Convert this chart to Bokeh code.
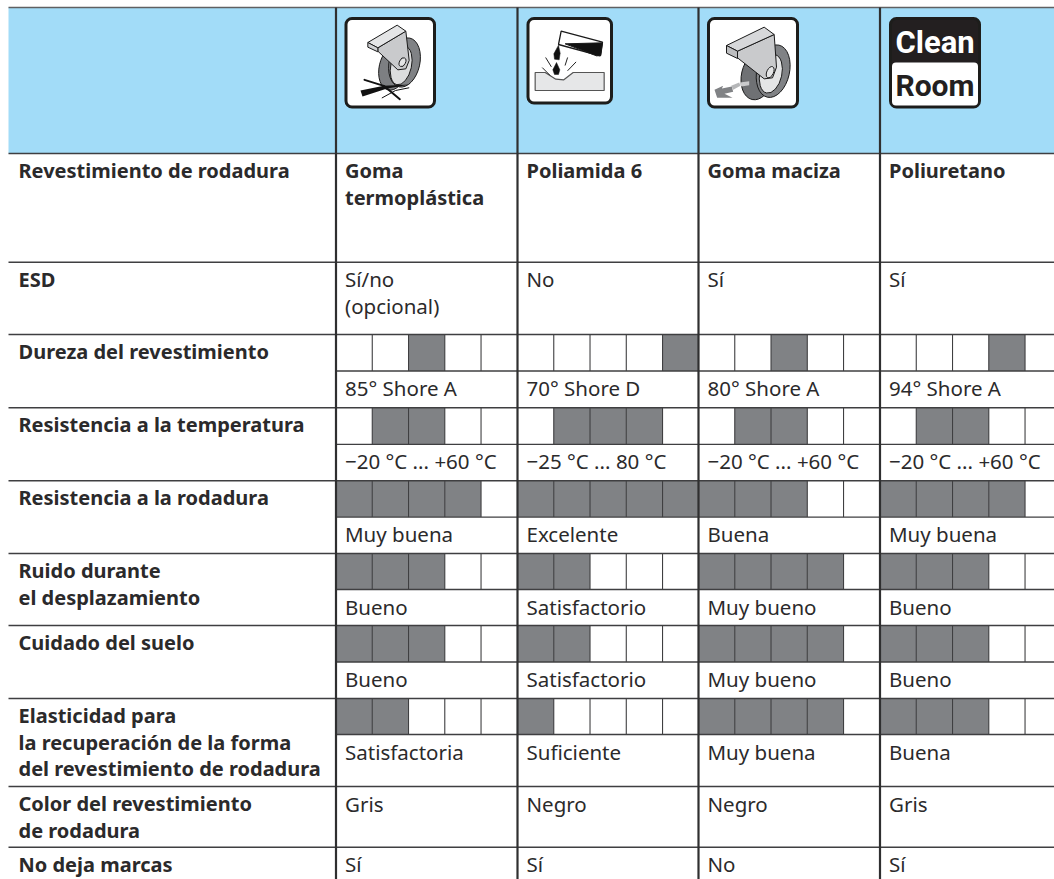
from bokeh.plotting import figure
from bokeh.models import Range1d
from bokeh.embed import file_html
from bokeh.resources import INLINE
from bokeh.core.properties import value

# ---- data ----
materials = ["Goma\ntermoplástica", "Poliamida 6", "Goma maciza", "Poliuretano"]
row_titles = ["Revestimiento de rodadura", "ESD", "Dureza del revestimiento",
              "Resistencia a la temperatura", "Resistencia a la rodadura",
              "Ruido durante\nel desplazamiento", "Cuidado del suelo",
              "Elasticidad para\nla recuperación de la forma\ndel revestimiento de rodadura",
              "Color del revestimiento\nde rodadura", "No deja marcas"]
esd = ["Sí/no\n(opcional)", "No", "Sí", "Sí"]
dureza_cells = [[3], [5], [3], [4]]
dureza_text = ["85° Shore A", "70° Shore D", "80° Shore A", "94° Shore A"]
temperatura_cells = [[2, 3], [2, 3, 4], [2, 3], [2, 3]]
temperatura_text = ["−20 °C ... +60 °C", "−25 °C ... 80 °C", "−20 °C ... +60 °C", "−20 °C ... +60 °C"]
rodadura_cells = [[1, 2, 3, 4], [1, 2, 3, 4, 5], [1, 2, 3], [1, 2, 3, 4]]
rodadura_text = ["Muy buena", "Excelente", "Buena", "Muy buena"]
ruido_cells = [[1, 2, 3], [1, 2], [1, 2, 3, 4], [1, 2, 3]]
ruido_text = ["Bueno", "Satisfactorio", "Muy bueno", "Bueno"]
cuidado_cells = [[1, 2, 3], [1, 2], [1, 2, 3, 4], [1, 2, 3]]
cuidado_text = ["Bueno", "Satisfactorio", "Muy bueno", "Bueno"]
elasticidad_cells = [[1, 2], [1], [1, 2, 3, 4], [1, 2, 3]]
elasticidad_text = ["Satisfactoria", "Suficiente", "Muy buena", "Buena"]
color_text = ["Gris", "Negro", "Negro", "Gris"]
marcas_text = ["Sí", "Sí", "No", "Sí"]

# ---- layout ----
W, H = 1054, 879
LEFT, TOP, RIGHT, BOTTOM = 8, 7, 1054, 879
col_x = [335.5, 517, 698, 879.5]
col_w = 181.3
sub_w = col_w / 5
BLUE, GREY, INK, LINE = "#A2DCF8", "#808285", "#2b2a2b", "#3f3f41"
BODY, BOLD = "Noto Sans", "Noto Sans"
SIZE_B, SIZE_N = "20px", "20.5px"
LH = 26.7
BASE = 17.0

major = [153, 261.7, 334, 407.3, 480.2, 553, 625, 698, 786, 846.7]
rating_rows = [(334, 370.5, dureza_cells), (407.3, 443.8, temperatura_cells),
               (480.2, 516.6, rodadura_cells), (553, 589, ruido_cells),
               (625, 661.5, cuidado_cells), (698, 734, elasticidad_cells)]

p = figure(width=W, height=H, output_backend="svg", toolbar_location=None,
           x_range=Range1d(0, W), y_range=Range1d(H, 0),
           min_border=0, outline_line_color=None, background_fill_color="white",
           border_fill_color="white")
p.axis.visible = False
p.grid.visible = False

p.quad(left=[LEFT], right=[RIGHT], top=[TOP], bottom=[major[0]], fill_color=BLUE, line_color=None)

# rating cells
ql, qr, qt, qb = [], [], [], []
sx0, sy0, sy1 = [], [], []
for t, b, cells in rating_rows:
    for c, filled in zip(col_x, cells):
        for n in filled:
            ql.append(c + (n - 1) * sub_w); qr.append(c + n * sub_w); qt.append(t); qb.append(b)
        for n in range(1, 5):
            sx0.append(c + n * sub_w); sy0.append(t); sy1.append(b)
p.quad(left=ql, right=qr, top=qt, bottom=qb, fill_color=GREY, line_color=None)
p.segment(x0=sx0, x1=sx0, y0=sy0, y1=sy1, line_color=LINE, line_width=1.1)

# rules
p.segment(x0=[LEFT], x1=[RIGHT], y0=[TOP], y1=[TOP], line_color="#5f6062", line_width=1.5)
p.segment(x0=[LEFT] * len(major), x1=[RIGHT] * len(major), y0=major, y1=major,
          line_color=LINE, line_width=1.4)
inner = [r[1] for r in rating_rows]
p.segment(x0=[col_x[0]] * len(inner), x1=[RIGHT] * len(inner), y0=inner, y1=inner,
          line_color=LINE, line_width=1.3)
p.segment(x0=col_x, x1=col_x, y0=[TOP] * 4, y1=[BOTTOM] * 4, line_color="#2f2f30", line_width=2.2)


def put(xs, tops, strings, font, style, size):
    tx, ty, tt = [], [], []
    for x, top, s in zip(xs, tops, strings):
        for k, part in enumerate(s.split("\n")):
            tx.append(x); ty.append(top + BASE + k * LH); tt.append(part)
    p.text(x=tx, y=ty, text=tt, text_font=value(font), text_font_size=size, text_font_style=style,
           text_color=INK, text_baseline="alphabetic", text_align="left")


cell_x = [c + 9 for c in col_x]
put([18] * len(row_titles), major, row_titles, BOLD, "bold", SIZE_B)
put(cell_x, [153] * 4, materials, BOLD, "bold", SIZE_B)
for top, strings in [(261.7, esd), (370.5, dureza_text), (443.8, temperatura_text),
                     (516.6, rodadura_text), (589, ruido_text), (661.5, cuidado_text),
                     (734, elasticidad_text), (786, color_text), (846.7, marcas_text)]:
    put(cell_x, [top] * 4, strings, BODY, "normal", SIZE_N)


# ---- pictograms (drawn in the local coordinates of a 3x crop) ----
def tr(ox, oy, pts):
    return [ox + a / 3 for a, _ in pts], [oy + b / 3 for _, b in pts]


def poly(ox, oy, pts, fill, line="#1a1a1a", lw=1.0):
    xs, ys = tr(ox, oy, pts)
    p.patch(xs, ys, fill_color=fill, line_color=line, line_width=lw)


def stroke(ox, oy, pts, lw, color="#1a1a1a"):
    xs, ys = tr(ox, oy, pts)
    p.line(xs, ys, line_color=color, line_width=lw, line_cap="round")


def ell(ox, oy, cx, cy, w, h, ang, fill, line="#1a1a1a", lw=1.0):
    p.ellipse(x=[ox + cx / 3], y=[oy + cy / 3], width=[w / 3], height=[h / 3], angle=[ang],
              fill_color=fill, line_color=line, line_width=lw)


def box(l, r, t, b, fill="white"):
    p.quad(left=[l], right=[r], top=[t], bottom=[b], fill_color=fill, line_color="#1d1d1b",
           line_width=3, border_radius=6)


TILT = -0.22
# icon 1
box(345.5, 434, 18, 106.5)
ox, oy = 340, 10
ell(ox, oy, 158, 172, 84, 136, TILT, "#7d7f82")
ell(ox, oy, 192, 156, 92, 150, TILT, "#808285")
ell(ox, oy, 182, 165, 62, 118, TILT, "#dcddde")
poly(ox, oy, [(112, 112), (196, 62), (206, 150), (196, 175), (172, 178), (112, 122)], "#c9cacc")
poly(ox, oy, [(82, 96), (170, 44), (196, 62), (112, 112)], "#e4e5e6")
poly(ox, oy, [(82, 96), (112, 112), (112, 124), (82, 110)], "#d0d1d3")
ell(ox, oy, 186, 155, 18, 28, TILT * 2, "#e4e5e6")
poly(ox, oy, [(60, 240), (130, 226), (210, 222), (140, 234), (66, 258)], "#111", None)
stroke(ox, oy, [(72, 208), (130, 226), (178, 266)], 2.0, "#111")
stroke(ox, oy, [(125, 262), (165, 240), (205, 232)], 1.0, "#111")

# icon 2
box(527.5, 611, 18, 102.5)
ox, oy = 522, 10
poly(ox, oy, [(116, 62), (240, 95), (233, 136), (108, 102)], "white", lw=1.3)
poly(ox, oy, [(128, 100), (240, 97), (235, 135), (222, 136)], "#111")
poly(ox, oy, [(108, 104), (113, 128), (110, 148), (96, 146), (94, 130)], "#111", lw=0.5)
poly(ox, oy, [(102, 156), (112, 178), (108, 192), (96, 192), (91, 178)], "#111", lw=0.5)
poly(ox, oy, [(38, 186), (68, 186), (100, 206), (124, 208), (152, 186), (245, 186), (245, 240), (38, 240)],
     "#e6e7e8", "#555", 1.2)
for seg in ([(70, 142), (86, 168)], [(135, 142), (128, 164)], [(160, 155), (136, 180)], [(60, 172), (82, 194)]):
    stroke(ox, oy, seg, 1.0, "#222")

# icon 3
box(708, 797, 18, 106.5)
ox, oy = 702, 10
ell(ox, oy, 165, 195, 96, 148, TILT, "#6f7174")
ell(ox, oy, 212, 182, 98, 160, TILT, "#808285")
ell(ox, oy, 205, 190, 66, 118, TILT, "#e4e5e6")
poly(ox, oy, [(105, 122), (215, 72), (222, 170), (210, 202), (185, 205), (105, 142)], "#c9cacc")
poly(ox, oy, [(72, 105), (185, 50), (215, 72), (105, 122)], "#d7d8da")
poly(ox, oy, [(72, 105), (105, 122), (105, 144), (72, 128)], "#bdbec0")
ell(ox, oy, 203, 185, 20, 36, TILT * 2, "#e4e5e6")
poly(ox, oy, [(36, 238), (62, 226), (58, 234), (88, 228), (92, 244), (66, 250), (90, 262), (44, 262)], "#808285", None)
poly(ox, oy, [(86, 226), (110, 216), (114, 226), (92, 238)], "#b5b6b8", None)
poly(ox, oy, [(112, 216), (140, 212), (140, 224), (116, 228)], "#c9cacc", None)

# icon 4
box(890, 979, 18, 106.5, "#231f20")
p.quad(left=[891.5], right=[977.5], top=[62], bottom=[105], fill_color="white", line_color=None,
       border_radius=4)
p.text(x=[934.5], y=[42], text=["Clean"], text_font=value("Roboto"), text_font_style="bold",
       text_font_size="31px", text_color="white", text_align="center", text_baseline="alphabetic")
p.text(x=[934.5], y=[85], text=["Room"], text_font=value("Roboto"), text_font_style="bold",
       text_font_size="30px", text_color="#231f20", text_align="center", text_baseline="alphabetic")

open("out.html", "w").write(file_html(p, INLINE))
